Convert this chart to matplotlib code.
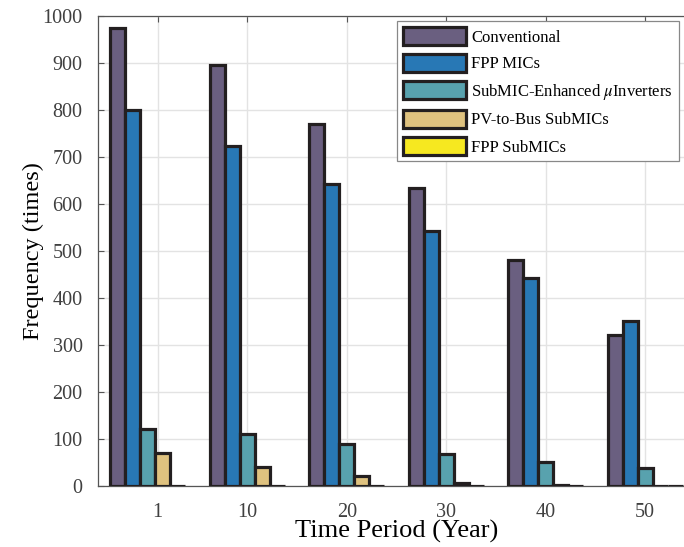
import matplotlib
matplotlib.use("Agg")
import matplotlib.pyplot as plt
import numpy as np

years = [1, 10, 20, 30, 40, 50]
group_pos = [0, 10, 20, 30, 40, 50]
series_names = ["Conventional", "FPP MICs", r"SubMIC-Enhanced $\mu$Inverters",
                "PV-to-Bus SubMICs", "FPP SubMICs"]
conventional = [975, 895, 770, 634, 481, 322]
fpp_mics = [800, 724, 642, 543, 443, 351]
submic_enh = [121, 110, 89, 69, 51, 38]
pv_to_bus = [71, 40, 21, 6, 2, 1]
fpp_submics = [1, 1, 1, 1, 1, 1]
colors = ["#6a5f80", "#2878b5", "#58a2ae", "#dfc27f", "#f6e820"]

plt.rcParams['font.family'] = ['Liberation Serif', 'DejaVu Serif']
plt.rcParams['mathtext.fontset'] = 'stix'

fig = plt.figure(figsize=(6.84, 5.47), dpi=100)
ax = fig.add_axes([98/684, 1-486/547, 597/684, 470/547])

data = [conventional, fpp_mics, submic_enh, pv_to_bus, fpp_submics]
bw = 1.5
x = np.array(group_pos, dtype=float)
for i, (vals, name, c) in enumerate(zip(data, series_names, colors)):
    ax.bar(x + (i - 2) * bw, vals, width=bw, color=c, edgecolor="#231f20",
           linewidth=2.3, label=name, zorder=3)

ax.set_xlim(-5, 55)
ax.set_ylim(0, 1000)
ax.set_xticks(years)
ax.set_xticklabels([str(y) for y in years])
ax.set_yticks(np.arange(0, 1001, 100))
ax.grid(True, color="#e3e3e3", linewidth=1.0, zorder=0)
ax.set_axisbelow(True)
for s in ax.spines.values():
    s.set_color("#555555")
    s.set_linewidth(0.9)
ax.tick_params(direction="in", top=True, right=True, length=4, color="#555555",
               labelsize=14.5, labelcolor="#404040")
ax.tick_params(axis="x", pad=12)
ax.tick_params(axis="y", pad=11)
ax.set_xlabel("Time Period (Year)", fontsize=19, labelpad=-1)
ax.set_ylabel("Frequency (times)", fontsize=17.5, labelpad=-1)

leg = ax.legend(loc="upper left", bbox_to_anchor=(397/684, 1-21/547),
                bbox_transform=fig.transFigure, fontsize=12, fancybox=False,
                edgecolor="#888888", framealpha=1, handlelength=3.8,
                handleheight=1.3, labelspacing=0.5, borderpad=0.35,
                handletextpad=0.3, borderaxespad=0)
leg.get_frame().set_linewidth(0.9)

fig.savefig("out.png", dpi=100)
